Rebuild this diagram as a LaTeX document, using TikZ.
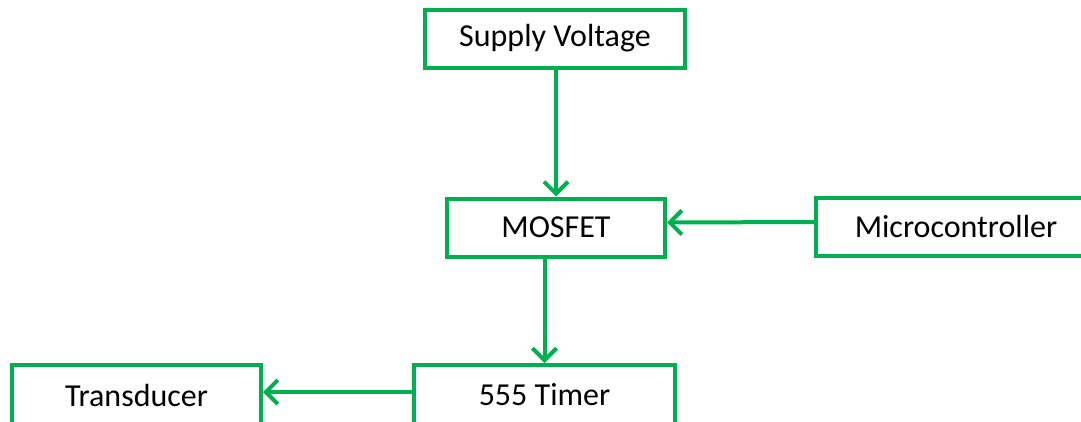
\documentclass[tikz,border=0pt]{standalone}
\usepackage{fontspec}
\setmainfont{Carlito}
\usetikzlibrary{arrows.meta,positioning}
\definecolor{BoxGreen}{RGB}{0,176,80}

\tikzset{
  block/.style={draw=BoxGreen, line width=4pt, fill=white, minimum height=58pt,
    inner sep=0pt, font=\fontsize{32}{36}\selectfont},
  flow/.style={draw=BoxGreen, line width=4pt, -{Straight Barb[length=12pt,width=24pt,line width=4pt]}}
}

\begin{document}
\begin{tikzpicture}[x=1pt,y=-1pt]
        \useasboundingbox (0,0) rectangle (1081,421);
        \node[block, minimum width=260pt] (supply) at (555,38.5) {Supply Voltage};
        \node[block, minimum width=218pt] (mosfet) at (556,227.5) {MOSFET};
        \node[block, minimum width=280pt] (micro) at (956,227) {Microcontroller};
        \node[block, minimum width=261pt, minimum height=60pt] (timer) at (544.5,395) {555 Timer};
        \node[block, minimum width=249pt, minimum height=60pt] (trans) at (136.5,395) {Transducer};
        \draw[flow] (supply.south -| mosfet.north) -- (mosfet.north);
        \draw[flow] ([yshift=5pt]micro.west) -- ([yshift=5pt]mosfet.east);
        \draw[flow] (mosfet.south -| timer.north) -- (timer.north);
        \draw[flow] ([yshift=3pt]timer.west) -- ([yshift=3pt]trans.east);
\end{tikzpicture}
\end{document}
